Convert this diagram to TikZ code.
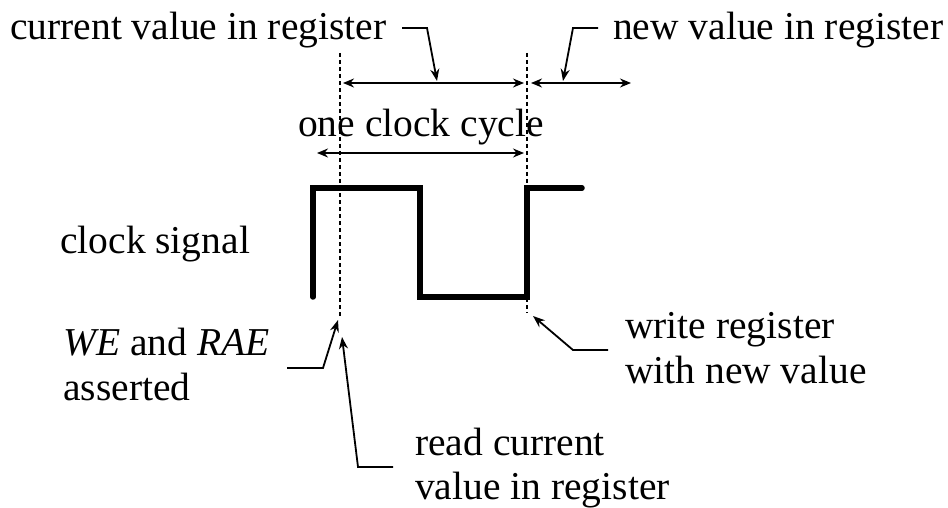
\documentclass[tikz,border=0pt]{standalone}
\usepackage{fontspec}
\setmainfont{Liberation Serif}
\usetikzlibrary{arrows.meta}
\tikzset{
  lbl/.style={inner sep=0pt, anchor=base west, font=\fontsize{39.5}{45}\selectfont},
  dim/.style={line width=1.6pt, {Stealth[length=11pt,width=9pt]}-{Stealth[length=11pt,width=9pt]}},
  callout/.style={line width=1.8pt, -{Stealth[length=12pt,width=9pt]}},
  guide/.style={line width=1.1pt, dash pattern=on 4pt off 3pt},
  clk/.style={line width=5.5pt, line cap=round, line join=miter}
}
\begin{document}
\begin{tikzpicture}[x=1pt,y=-1pt]
\useasboundingbox (0,0) rectangle (948,508);
% texts
\node[lbl] (cur) at (10,40) {current value in register};
\node[lbl] (new) at (613,40) {new value in register};
\node[lbl] (cyc) at (298,137) {one clock cycle};
\node[lbl] (clk) at (60,253) {clock signal};
\node[lbl] (we1) at (63,355) {\textit{WE} and \textit{RAE}};
\node[lbl] (we2) at (63,400) {asserted};
\node[lbl] (wr1) at (625,338) {write register};
\node[lbl] (wr2) at (625,383) {with new value};
\node[lbl] (rd1) at (415,455) {read current};
\node[lbl] (rd2) at (415,499) {value in register};
% guides
\coordinate (g1t) at (340,53); \coordinate (g1b) at (340,318);
\coordinate (g2t) at (527,53); \coordinate (g2b) at (527,313);
\draw[guide] (g1t) -- (g1b);
\draw[guide] (g2t) -- (g2b);
% dimension arrows
\coordinate (a1l) at (343,83); \coordinate (a1r) at (524,83);
\coordinate (a2l) at (531,83); \coordinate (a2r) at (631,83);
\coordinate (a3l) at (317,153); \coordinate (a3r) at (524,153);
\draw[dim] (a1l) -- (a1r);
\draw[dim] (a2l) -- (a2r);
\draw[dim] (a3l) -- (a3r);
% clock
\coordinate (c0) at (313,297); \coordinate (c1) at (313,188);
\coordinate (c2) at (420,188); \coordinate (c3) at (420,297);
\coordinate (c4) at (527,297); \coordinate (c5) at (527,188);
\coordinate (c6) at (582,188);
\draw[clk] (c0) -- (c1) -- (c2) -- (c3) -- (c4) -- (c5) -- (c6);
% callouts
\coordinate (k1a) at (402,28); \coordinate (k1b) at (427,28); \coordinate (k1t) at (437,81);
\draw[callout] (k1a) -- (k1b) -- (k1t);
\coordinate (k2a) at (598,28); \coordinate (k2b) at (573,28); \coordinate (k2t) at (563,81);
\draw[callout] (k2a) -- (k2b) -- (k2t);
\coordinate (k3a) at (287,368); \coordinate (k3b) at (323,368); \coordinate (k3t) at (338,320);
\draw[callout] (k3a) -- (k3b) -- (k3t);
\coordinate (k4a) at (393,467); \coordinate (k4b) at (358,467); \coordinate (k4t) at (342,337);
\draw[callout] (k4a) -- (k4b) -- (k4t);
\coordinate (k5a) at (608,350); \coordinate (k5b) at (573,350); \coordinate (k5t) at (533,316);
\draw[callout] (k5a) -- (k5b) -- (k5t);
\end{tikzpicture}
\end{document}
